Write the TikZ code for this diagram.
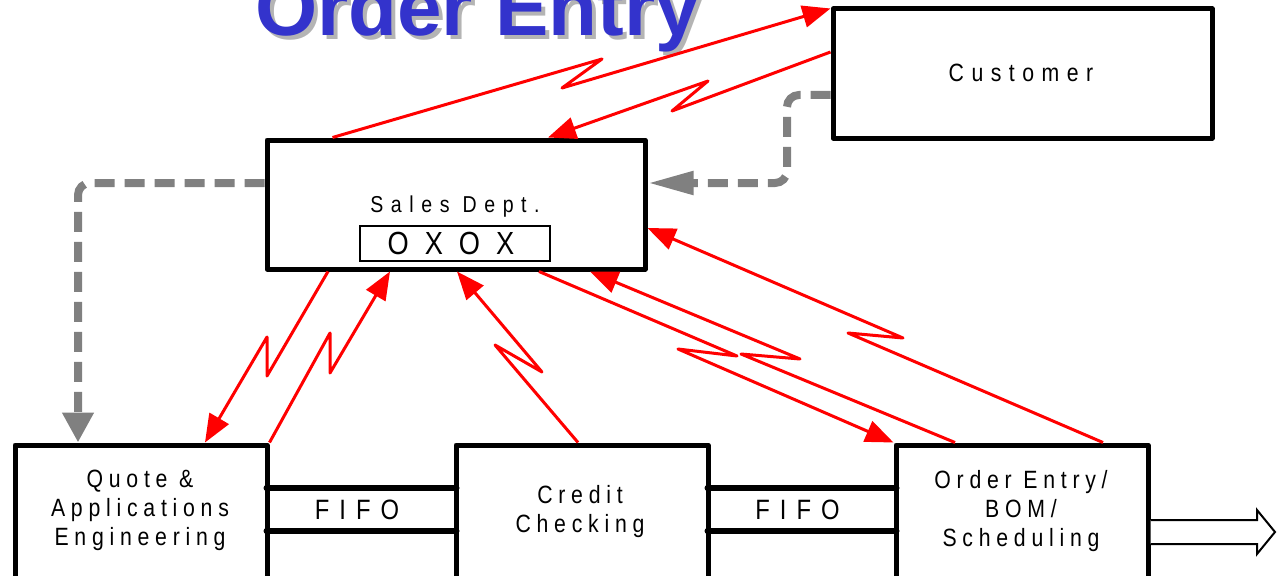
\documentclass[tikz,border=0pt]{standalone}
\usepackage{fontspec}
\setmainfont{Liberation Sans}
\newfontfamily\lblfont[FakeStretch=0.85,LetterSpace=23]{Liberation Sans}
\newfontfamily\custfont[FakeStretch=0.85,LetterSpace=30]{Liberation Sans}
\newfontfamily\salesfont[FakeStretch=0.85,LetterSpace=33]{Liberation Sans}
\newfontfamily\oxoxfont[FakeStretch=0.85,LetterSpace=50]{Liberation Sans}
\newfontfamily\fifofont[FakeStretch=0.85,LetterSpace=36]{Liberation Sans}
\usetikzlibrary{arrows.meta,calc}
\definecolor{titleblue}{HTML}{3333CC}
\definecolor{shadowgray}{HTML}{B4B4B4}
\definecolor{dashgray}{HTML}{808080}
\definecolor{linkred}{HTML}{FF0000}
\begin{document}
\begin{tikzpicture}[x=1pt,y=-1pt,
  box/.style={draw=black,line width=5pt,line join=round,fill=white,inner sep=0pt},
  lbl/.style={inner sep=0pt,align=center,text=black},
  redlink/.style={draw=linkred,line width=3pt,line join=round,-{Triangle[length=28pt,width=22pt]}},
  graylink/.style={draw=dashgray,line width=8pt,dash pattern=on 20pt off 10pt,rounded corners=12pt},
  fifoline/.style={draw=black,line width=6pt,line cap=round},
  hollowarrow/.style={draw=black,line width=2pt,fill=white,line join=miter},
  oxoxbox/.style={draw=black,line width=1.5pt,fill=white,inner sep=0pt}
]
\useasboundingbox (0,0) rectangle (1281,575);
\clip (0,0) rectangle (1281,575);

% title
\node[font=\fontsize{80}{96}\selectfont\bfseries, text=shadowgray, anchor=base] (titleshadow) at (481.5,40) {Order Entry};
\node[font=\fontsize{80}{96}\selectfont\bfseries, text=titleblue, anchor=base] (title) at (477.5,36) {Order Entry};

% boxes
\node[box,minimum width=379pt,minimum height=129pt] (cust) at (1022.5,73.5) {};
\node[box,minimum width=378pt,minimum height=129pt] (sales) at (456,204.5) {};
\node[box,minimum width=252pt,minimum height=200pt] (quote) at (141,545) {};
\node[box,minimum width=252pt,minimum height=200pt] (credit) at (582,545) {};
\node[box,minimum width=252pt,minimum height=200pt] (order) at (1022,545) {};

% labels
\node[lbl,font=\custfont\fontsize{25}{29}\selectfont,anchor=base] (custtxt) at (1021,82) {Customer};
\node[lbl,font=\salesfont\fontsize{23}{27}\selectfont,anchor=base] (salestxt) at (455,212) {Sales Dept.};
\node[oxoxbox,minimum width=190pt,minimum height=35pt] (oxox) at (455,243.5) {};
\node[lbl,font=\oxoxfont\fontsize{32}{38}\selectfont,anchor=base] (oxoxtxt) at (451,254) {OXOX};
\node[lbl,font=\lblfont\fontsize{25}{29}\selectfont] (quotetxt) at (140,510.5) {Quote \&\\Applications\\Engineering};
\node[lbl,font=\lblfont\fontsize{25}{29}\selectfont] (credittxt) at (580,512) {Credit\\Checking};
\node[lbl,font=\lblfont\fontsize{25}{29}\selectfont] (ordertxt) at (1021,511.5) {Order Entry/\\BOM/\\Scheduling};

% FIFO
\coordinate (fifotop) at (0,488);
\coordinate (fifobot) at (0,531);
\node[lbl,font=\fifofont\fontsize{28}{33}\selectfont,anchor=base] (fifoa) at (357,519) {FIFO};
\node[lbl,font=\fifofont\fontsize{28}{33}\selectfont,anchor=base] (fifob) at (797.5,519) {FIFO};
\draw[fifoline] ([xshift=-3pt]quote.east |- fifotop) -- ([xshift=3pt]credit.west |- fifotop);
\draw[fifoline] ([xshift=-3pt]quote.east |- fifobot) -- ([xshift=3pt]credit.west |- fifobot);
\draw[fifoline] ([xshift=-3pt]credit.east |- fifotop) -- ([xshift=3pt]order.west |- fifotop);
\draw[fifoline] ([xshift=-3pt]credit.east |- fifobot) -- ([xshift=3pt]order.west |- fifobot);

% output arrow
\draw[hollowarrow] (order.north east) ++(0,77.5) -- ++(106.5,0) -- ++(0,-10) -- ++(18,22) -- ++(-18,22) -- ++(0,-10) -- ++(-106.5,0);

% gray dashed links
\draw[graylink,-{Triangle[length=46pt,width=22pt]}] ([yshift=-21.5pt]cust.west) -- (787,95) -- (787,183) -- ([yshift=21.5pt]sales.east);
\draw[graylink,-{Triangle[length=30pt,width=30pt]}] ([yshift=21.5pt]sales.west) -- (78,183) -- ([xshift=65.5pt]quote.north west);

% red links with zigzags
\draw[redlink] ([xshift=68pt]sales.north west) -- (602,59) -- (562,88) -- ([yshift=-2pt]cust.north west);
\draw[redlink] ([yshift=21.5pt]cust.west) -- (672,111) -- (708,81) -- ([xshift=283.5pt]sales.north west);
\draw[redlink] ([xshift=63.5pt]sales.south west) -- (267,376) -- (267,337) -- ([xshift=192.5pt]quote.north west);
\draw[redlink] (quote.north east) -- (330,333) -- (330,373) -- ([xshift=125.5pt]sales.south west);
\draw[redlink] ([xshift=-4pt]credit.north) -- (495,345) -- (542,372) -- ([xshift=1pt]sales.south);
\draw[redlink] ([xshift=83pt]sales.south) -- (737,356) -- (678,349) -- (order.north west);
\draw[redlink] ([xshift=61.5pt]order.north west) -- (741,354) -- (800,359) -- ([xshift=134pt]sales.south);
\draw[redlink] ([xshift=-47.5pt]order.north east) -- (848,333) -- (903,338) -- ([yshift=-23.5pt]sales.east);
\end{tikzpicture}
\end{document}
